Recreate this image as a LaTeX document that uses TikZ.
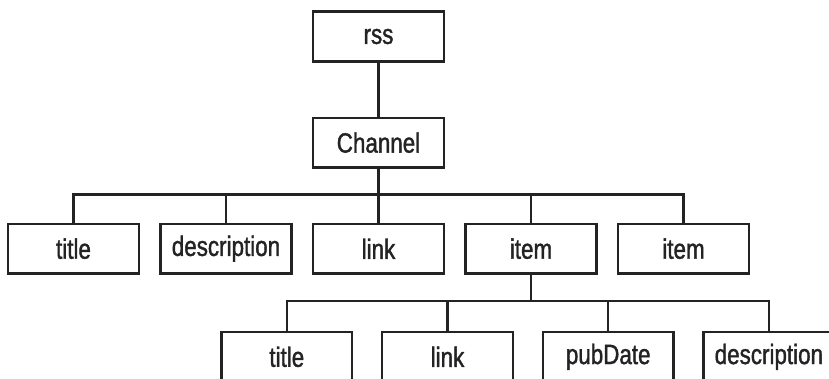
\documentclass[tikz,border=0pt]{standalone}
\usepackage{fontspec}
\newfontfamily\boxfont{Liberation Sans}[FakeStretch=0.8, FakeBold=1.3]
\usetikzlibrary{positioning}
\definecolor{cLine}{RGB}{35,35,35}
\tikzset{
  treebox/.style={rectangle, draw=cLine, line width=1.25pt, fill=white,
                  minimum width=65.3pt, minimum height=24.8pt, inner sep=0pt,
                  font=\boxfont\fontsize{14pt}{16pt}\selectfont, text=cLine},
  branch/.style={draw=cLine, line width=1.25pt}
}

\begin{document}
\begin{tikzpicture}[x=0.5pt, y=-0.5pt, node distance=27pt and 9.7pt]

  \useasboundingbox (0,0) rectangle (829,379);
  \clip (0,0) rectangle (829,379);

  \node[treebox] (rss) at (378.5,36.5) {rss};
  \node[treebox, below=of rss] (channel) {Channel};

  % channel children
  \node[treebox, below=of channel] (link) {link};
  \node[treebox, left=of link] (desc) {description};
  \node[treebox, left=of desc] (title) {title};
  \node[treebox, right=of link] (item) {item};
  \node[treebox, right=of item] (itemb) {item};

  % item children
  \node[treebox, below=28pt of item, xshift=-41.75pt] (ilink) {link};
  \node[treebox, left=13.8pt of ilink] (ititle) {title};
  \node[treebox, right=13.8pt of ilink] (ipub) {pubDate};
  \node[treebox, right=13.8pt of ipub] (idesc) {description};

  \coordinate[below=13pt of channel] (busA);
  \coordinate[below=13pt of item] (busB);

  \draw[branch] (rss) -- (channel);
  \draw[branch] (channel) -- (busA);
  \foreach \n in {title,desc,link,item,itemb}
    \draw[branch] (busA) -| (\n.north);
  \draw[branch] (item) -- (busB);
  \foreach \n in {ititle,ilink,ipub,idesc}
    \draw[branch] (busB) -| (\n.north);

\end{tikzpicture}
\end{document}
